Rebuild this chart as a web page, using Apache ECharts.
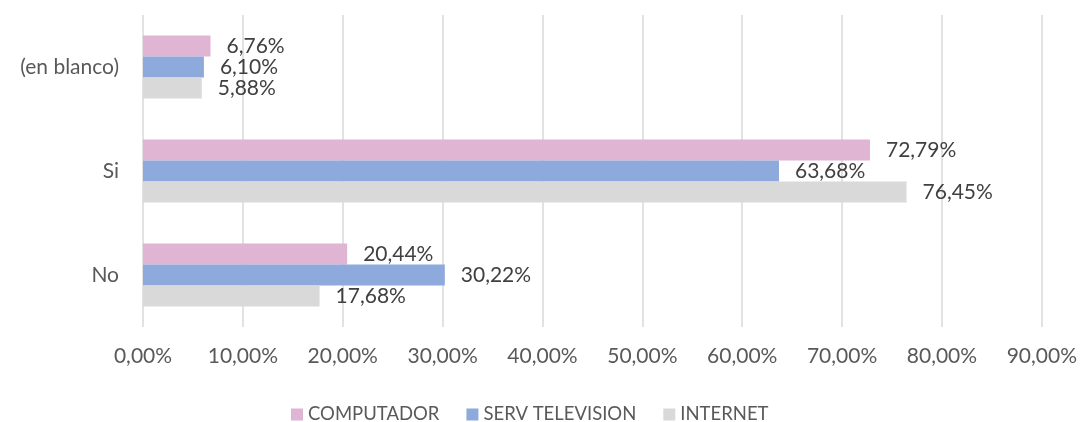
<!DOCTYPE html>
<html>
<head>
<meta charset="utf-8">
<script src="https://cdn.jsdelivr.net/npm/echarts@6/dist/echarts.min.js"></script>
<style>
  html, body { margin: 0; padding: 0; background: #fff; }
  #chart { width: 1080px; height: 422px; }
</style>
</head>
<body>
<div id="chart"></div>
<script>
// Categories, bottom to top on the vertical axis
const categories = ['No', 'Si', '(en blanco)'];
const seriesNames = ['COMPUTADOR', 'SERV TELEVISION', 'INTERNET'];
// Percentages per category (same order as categories)
const computador = [20.44, 72.79, 6.76];
const servTelevision = [30.22, 63.68, 6.10];
const internet = [17.68, 76.45, 5.88];
const colors = { 'COMPUTADOR': '#E0B4D3', 'SERV TELEVISION': '#8EA9DB', 'INTERNET': '#D9D9D9' };

const fontFamily = 'Lato, "Open Sans", sans-serif';
const fmt = v => v.toFixed(2).replace('.', ',') + '%';

function barSeries(name, values) {
  return {
    name: name,
    type: 'bar',
    data: values,
    barWidth: 21,
    barGap: '0%',
    itemStyle: { color: colors[name] },
    label: {
      show: true,
      position: 'right',
      distance: 16,
      color: '#404040',
      fontSize: 21,
      fontFamily: fontFamily,
      formatter: p => fmt(p.value)
    }
  };
}

const chart = echarts.init(document.getElementById('chart'), null, { renderer: 'canvas' });
chart.setOption({
  animation: false,
  grid: { left: 143, right: 37, top: 15, bottom: 95 },
  legend: {
    data: seriesNames,
    top: 400,
    left: 286,
    itemWidth: 12,
    itemHeight: 12,
    itemGap: 27,
    icon: 'rect',
    textStyle: { color: '#595959', fontSize: 18.5, fontFamily: fontFamily }
  },
  xAxis: {
    type: 'value',
    min: 0,
    max: 90,
    interval: 10,
    axisLine: { show: false },
    axisTick: { show: false },
    splitLine: { show: true, lineStyle: { color: '#D9D9D9', width: 1.5 } },
    axisLabel: {
      color: '#595959',
      fontSize: 21,
      fontFamily: fontFamily,
      margin: 19,
      formatter: v => fmt(v)
    }
  },
  yAxis: {
    type: 'category',
    data: categories,
    axisLine: { show: false },
    axisTick: { show: false },
    axisLabel: { color: '#595959', fontSize: 21, fontFamily: fontFamily, margin: 24 }
  },
  series: [
    barSeries('COMPUTADOR', computador),
    barSeries('SERV TELEVISION', servTelevision),
    barSeries('INTERNET', internet)
  ]
});
</script>
</body>
</html>
